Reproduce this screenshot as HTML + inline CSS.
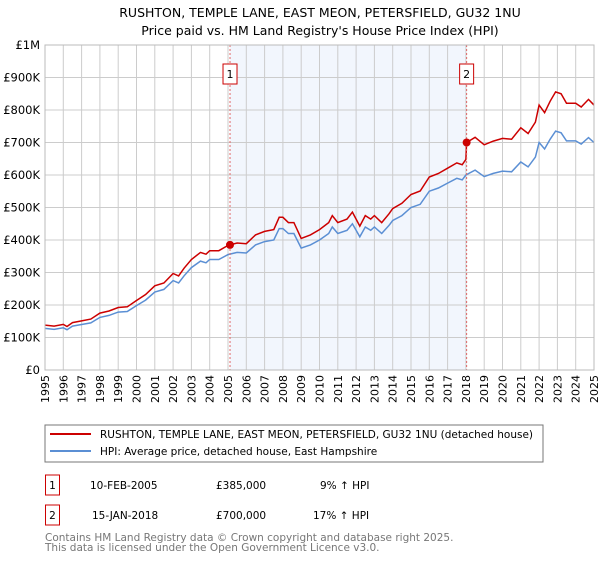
<!DOCTYPE html>
<html><head><meta charset="utf-8"><style>
body{margin:0;background:#fff;font-family:"Liberation Sans","DejaVu Sans",sans-serif;}
svg text{font-family:"DejaVu Sans","Liberation Sans",sans-serif;}
</style></head><body>
<svg id="c" width="600" height="560" xmlns="http://www.w3.org/2000/svg">
<text x="320" y="17" text-anchor="middle" font-size="12.5">RUSHTON, TEMPLE LANE, EAST MEON, PETERSFIELD, GU32 1NU</text>
<text x="320" y="35" text-anchor="middle" font-size="12.5">Price paid vs. HM Land Registry's House Price Index (HPI)</text>
<g id="plot"></g>
<rect x="45" y="425" width="498" height="37" fill="#fff" stroke="#777"/>
<line x1="50" y1="434" x2="91" y2="434" stroke="#cc0000" stroke-width="2"/>
<text x="100" y="438" font-size="10.5">RUSHTON, TEMPLE LANE, EAST MEON, PETERSFIELD, GU32 1NU (detached house)</text>
<line x1="50" y1="451" x2="91" y2="451" stroke="#5b8fd4" stroke-width="2"/>
<text x="100" y="455" font-size="10.5">HPI: Average price, detached house, East Hampshire</text>
<g font-size="10.5">
<rect x="45.5" y="475" width="14" height="20" fill="#fff" stroke="#cc0000"/>
<text x="52.5" y="489" text-anchor="middle">1</text>
<text x="90" y="489">10-FEB-2005</text><text x="216" y="489">£385,000</text><text x="320" y="489">9% ↑ HPI</text>
<rect x="45.5" y="505" width="14" height="20" fill="#fff" stroke="#cc0000"/>
<text x="52.5" y="519" text-anchor="middle">2</text>
<text x="92" y="519">15-JAN-2018</text><text x="216" y="519">£700,000</text><text x="313" y="519">17% ↑ HPI</text>
</g>
<text x="45" y="541" font-size="10.5" fill="#777">Contains HM Land Registry data © Crown copyright and database right 2025.</text>
<text x="45" y="551" font-size="10.5" fill="#777">This data is licensed under the Open Government Licence v3.0.</text>
</svg>
<script>
const hpiT=[1995,1995.5,1996,1996.2,1996.5,1997,1997.5,1998,1998.5,1999,1999.5,2000,2000.5,2001,2001.5,2002,2002.3,2002.6,2003,2003.5,2003.8,2004,2004.5,2005,2005.5,2006,2006.5,2007,2007.5,2007.8,2008,2008.3,2008.6,2009,2009.5,2010,2010.5,2010.7,2011,2011.5,2011.8,2012,2012.2,2012.5,2012.8,2013,2013.4,2013.8,2014,2014.5,2015,2015.5,2016,2016.5,2017,2017.5,2017.8,2018,2018.5,2019,2019.5,2020,2020.5,2021,2021.4,2021.8,2022,2022.3,2022.6,2022.9,2023.2,2023.5,2024,2024.3,2024.7,2024.9,2025];
const hpiV=[128,125,130,124,135,140,145,162,168,178,180,198,215,240,248,275,268,290,315,335,330,340,340,355,362,360,385,395,400,435,435,420,420,375,385,400,420,440,420,430,450,430,410,440,430,440,420,445,460,475,500,510,550,560,575,590,585,600,615,595,605,612,610,640,625,655,700,680,710,735,730,705,705,695,715,705,700];
const saleT=[2005.11,2018.04];
const saleV=[385,700];
const saleLabels=["1","2"];
const yTicks=[0,100,200,300,400,500,600,700,800,900,1000];
const yLabels=["£0","£100K","£200K","£300K","£400K","£500K","£600K","£700K","£800K","£900K","£1M"];
const x0=45,x1=594,y0=370,y1=45;
const X=t=>x0+(t-1995)/30*(x1-x0);
const Y=v=>y0-v/1000*(y0-y1);
const NS="http://www.w3.org/2000/svg";
const g=document.getElementById('plot');
function mk(tag,attrs){const e=document.createElementNS(NS,tag);for(const k in attrs)e.setAttribute(k,attrs[k]);g.appendChild(e);return e;}
function hpiAt(t){for(let i=1;i<hpiT.length;i++)if(hpiT[i]>=t){const f=(t-hpiT[i-1])/(hpiT[i]-hpiT[i-1]);return hpiV[i-1]+f*(hpiV[i]-hpiV[i-1]);}return hpiV[hpiV.length-1];}
let e;
e=mk('rect',{x:X(saleT[0]),y:y1,width:X(saleT[1])-X(saleT[0]),height:y0-y1,fill:'#f2f6fd'});


for(let yr=1995;yr<=2025;yr++){
 e=mk('line',{x1:X(yr),x2:X(yr),y1:y1,y2:y0,stroke:'#ccc','stroke-width':1});
 
 
 e=mk('text',{x:0,y:0,'font-size':11,'text-anchor':'end',transform:`translate(${X(yr)+4},${y0+5}) rotate(-90)`});
 e.textContent=yr;
 
 
}
yTicks.forEach((v,i)=>{
 e=mk('line',{x1:x0,x2:x1,y1:Y(v),y2:Y(v),stroke:'#ccc','stroke-width':1});
 
 
 e=mk('text',{x:40,y:Y(v)+4,'font-size':11.5,'text-anchor':'end'});
 e.textContent=yLabels[i];
 
 
});
const r1=saleV[0]/hpiAt(saleT[0]);
const r2=saleV[1]/hpiAt(saleT[1]);
let hp='',rp='';
hpiT.forEach((t,i)=>{
 hp+=(i?'L':'M')+X(t).toFixed(1)+','+Y(hpiV[i]).toFixed(1);
 if(t<saleT[1]) rp+=(i?'L':'M')+X(t).toFixed(1)+','+Y(hpiV[i]*r1).toFixed(1);
 else { if(hpiT[i-1]<saleT[1]) rp+='L'+X(saleT[1]).toFixed(1)+','+Y(saleV[1]).toFixed(1); rp+='L'+X(t).toFixed(1)+','+Y(hpiV[i]*r2).toFixed(1);}
});
e=mk('path',{d:hp,fill:'none',stroke:'#5b8fd4','stroke-width':1.5});


e=mk('path',{d:rp,fill:'none',stroke:'#cc0000','stroke-width':1.5});


saleT.forEach((t,i)=>{
 e=mk('line',{x1:X(t),x2:X(t),y1:y1,y2:y0,stroke:'#e06666','stroke-dasharray':'2,2','stroke-width':1});
 
 
 e=mk('circle',{cx:X(t),cy:Y(saleV[i]),r:4,fill:'#cc0000'});
 
 
 e=mk('rect',{x:X(t)-7,y:64,width:14,height:20,fill:'#fff',stroke:'#cc0000'});
 
 
 e=mk('text',{x:X(t),y:78,'font-size':11,'text-anchor':'middle'});
 e.textContent=saleLabels[i];
 
 
});
e=mk('rect',{x:x0,y:y1,width:x1-x0,height:y0-y1,fill:'none',stroke:'#bbb'});


</script>
</body></html>
